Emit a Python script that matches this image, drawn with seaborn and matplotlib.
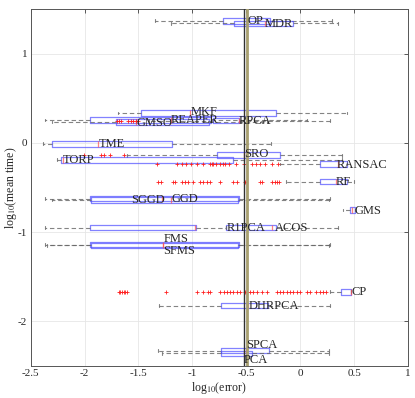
import numpy as np
import pandas as pd
import seaborn as sns
import matplotlib
matplotlib.use("Agg")
import matplotlib.pyplot as plt

## data: log10(mean time) per method and box stats of log10(error)
methods = ['OP', 'MDR', 'MKF', 'REAPER', 'GMSO', 'RPCA', 'TME', 'SRO', 'TORP', 'RANSAC',
           'RF', 'SGGD', 'GGD', 'GMS', 'R1PCA', 'ACOS', 'FMS', 'SFMS', 'CP', 'DHRPCA',
           'SPCA', 'PCA']
log_time = [1.37, 1.34, 0.337, 0.258, 0.235, 0.25, -0.01, -0.138, -0.19, -0.236,
            -0.435, -0.625, -0.64, -0.753, -0.95, -0.95, -1.14, -1.15, -1.67, -1.826,
            -2.33, -2.36]
whislo = [-1.35, -1.20, -1.69, -2.37, -2.30, -1.40, -2.39, -1.61, -2.26, -0.19,
          -0.13, -2.37, -2.30, 0.40, -2.37, -0.69, -2.37, -2.35, 0.28, -1.31,
          -1.32, -1.28]
q1 = [-0.72, -0.61, -1.475, -1.95, -1.71, -0.81, -2.30, -0.77, -2.22, 0.18,
      0.18, -1.95, -1.94, 0.46, -1.95, -0.69, -1.95, -1.94, 0.38, -0.73,
      -0.73, -0.73]
med = [-0.49, -0.33, -1.02, -1.20, -1.52, -0.57, -1.88, -0.52, -2.20, 0.35,
       0.33, -1.28, -1.20, 0.48, -0.98, -0.265, -1.27, -1.27, 0.47, -0.48,
       -0.50, -0.52]
q3 = [-0.28, -0.07, -0.22, -0.83, -0.85, -0.57, -1.19, -0.19, -0.62, 0.43,
      0.43, -0.57, -0.58, 0.51, -0.97, -0.22, -0.57, -0.58, 0.475, -0.30,
      -0.29, -0.45]
whishi = [0.30, 0.35, 0.43, 0.06, -0.31, 0.275, -0.27, 0.39, 0.39, 0.43,
          0.50, 0.275, 0.27, 0.51, -0.69, 0.35, 0.28, 0.27, 0.475, 0.275,
          0.27, 0.27]

# outliers (red +)
out_rpca = [-1.70, -1.68, -1.66, -1.60, -1.57, -1.55, -1.52, -1.50]
out_sro = [-2.01, -1.85, -1.82, -1.76, -1.63]
out_ransac = [-1.324, -1.139, -1.099, -1.062, -1.016, -0.960, -0.898, -0.837, -0.821,
              -0.806, -0.781, -0.744, -0.720, -0.698, -0.661, -0.596, -0.521, -0.447,
              -0.410, -0.373, -0.324, -0.265, -0.203]
out_rf = [-1.315, -1.294, -1.183, -1.161, -1.099, -1.069, -1.038, -0.992, -0.930,
          -0.898, -0.867, -0.837, -0.744, -0.620, -0.583, -0.512, -0.373, -0.352,
          -0.265, -0.234, -0.213, -0.195]
out_cp = [-1.685, -1.670, -1.654, -1.639, -1.623, -1.602, -1.242, -0.953, -0.898,
          -0.852, -0.837, -0.744, -0.707, -0.682, -0.651, -0.620, -0.589, -0.559,
          -0.512, -0.497, -0.466, -0.435, -0.404, -0.358, -0.312, -0.219, -0.188,
          -0.157, -0.126, -0.095, -0.064, -0.033, -0.003, 0.059, 0.090, 0.151,
          0.182, 0.213, 0.244]
outliers = {'RPCA': out_rpca, 'SRO': out_sro, 'RANSAC': out_ransac, 'RF': out_rf, 'CP': out_cp}

# label anchors
label_x = [-0.49, -0.33, -1.02, -1.20, -1.52, -0.57, -1.87, -0.52, -2.20, 0.34,
           0.33, -1.57, -1.19, 0.50, -0.68, -0.23, -1.27, -1.27, 0.475, -0.48,
           -0.50, -0.52]
label_y = [1.37, 1.335, 0.35, 0.258, 0.22, 0.245, -0.01, -0.13, -0.19, -0.25,
           -0.44, -0.645, -0.625, -0.76, -0.95, -0.95, -1.08, -1.21, -1.67, -1.83,
           -2.27, -2.44]

ref_lines = [-0.52, -0.495]

## style
sns.set_style("whitegrid")
plt.rcParams['font.family'] = ['Liberation Serif', 'DejaVu Serif']
plt.rcParams['mathtext.fontset'] = 'stix'

fig = plt.figure(figsize=(4.15, 3.98), dpi=100)
ax = fig.add_axes([0.074, 0.081, 0.909, 0.896])

stats = []
for i, m in enumerate(methods):
    stats.append(dict(label=m, whislo=whislo[i], q1=q1[i], med=med[i],
                      q3=q3[i], whishi=whishi[i], fliers=[]))

ax.bxp(stats, positions=log_time, widths=0.062, orientation='horizontal',
       showfliers=False, manage_ticks=False,
       boxprops=dict(color=(0.3, 0.3, 1.0, 0.7), linewidth=0.9),
       medianprops=dict(color=(1.0, 0.3, 0.3, 0.7), linewidth=0.9),
       whiskerprops=dict(color=(0.4, 0.4, 0.4, 0.8), linestyle=(0, (4, 2.5)), linewidth=0.8),
       capprops=dict(color=(0.4, 0.4, 0.4, 0.8), linewidth=0.8),
       capwidths=0.03)

rows = []
for m, xs in outliers.items():
    yv = log_time[methods.index(m)]
    for xv in xs:
        rows.append((xv, yv))
df_out = pd.DataFrame(rows, columns=['err', 'time'])
sns.scatterplot(data=df_out, x='err', y='time', marker='+', color='#ff2020', s=10,
                linewidth=0.6, ax=ax, zorder=3)

ax.axvline(ref_lines[0], color='#303030', linewidth=1.0, zorder=4)
ax.axvline(ref_lines[1], color='#a8a070', linewidth=2.0, zorder=4)

for i, m in enumerate(methods):
    ax.text(label_x[i], label_y[i], m, fontsize=9, ha='left', va='center', zorder=5)

ax.set_xlim(-2.5, 1)
ax.set_ylim(-2.5, 1.5)
ax.set_xticks([-2.5, -2, -1.5, -1, -0.5, 0, 0.5, 1])
ax.set_xticklabels(['-2.5', '-2', '-1.5', '-1', '-0.5', '0', '0.5', '1'])
ax.set_yticks([-2, -1, 0, 1])
ax.set_yticklabels(['-2', '-1', '0', '1'])
ax.tick_params(direction='in', length=3, labelsize=8, top=True, right=True,
               color='#404040', width=0.6, pad=2.5)
ax.grid(True, color='#e6e6e6', linewidth=0.6)
for s in ax.spines.values():
    s.set_color('#555555')
    s.set_linewidth(0.7)
ax.set_xlabel(r'log$_{10}$(error)', fontsize=8.5, labelpad=1)
ax.set_ylabel(r'log$_{10}$(mean time)', fontsize=8.5, labelpad=-1)

fig.savefig('out.png', dpi=100)
